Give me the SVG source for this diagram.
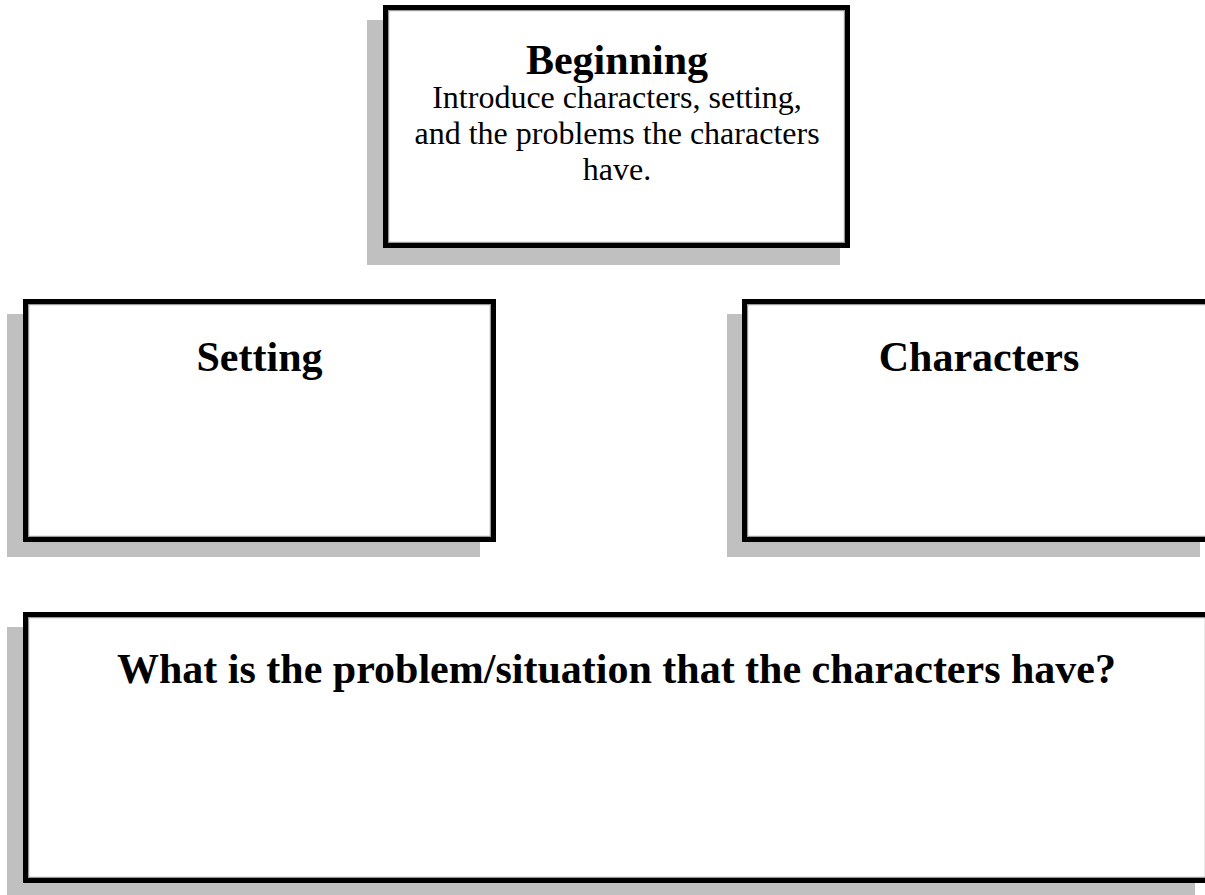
<svg xmlns="http://www.w3.org/2000/svg" width="1205" height="895" viewBox="0 0 1205 895">
<style>
.shadow{fill:#c0c0c0}
.box{fill:#fff;stroke:#000;stroke-width:5}
.inner{fill:none;stroke:#9a9a9a;stroke-width:1.2}
.title{font-family:"Liberation Serif",serif;font-weight:bold;font-size:42px;text-anchor:middle;fill:#000}
.body{font-family:"Liberation Serif",serif;font-size:32px;text-anchor:middle;fill:#000}
</style>
<rect width="1205" height="895" fill="#fff"/>
<g id="beginning">
<rect class="shadow" x="367" y="20" width="473" height="245"/>
<rect class="box" x="385.5" y="7.5" width="462" height="238"/>
<rect class="inner" x="388.6" y="10.6" width="455.8" height="231.8"/>
<text class="title" x="617" y="74">Beginning</text>
<text class="body" x="617" y="108">Introduce characters, setting,</text>
<text class="body" x="617" y="144">and the problems the characters</text>
<text class="body" x="617" y="180">have.</text>
</g>
<g id="setting">
<rect class="shadow" x="7" y="314" width="473" height="243"/>
<rect class="box" x="25.5" y="301.5" width="468" height="238"/>
<rect class="inner" x="28.6" y="304.6" width="461.8" height="231.8"/>
<text class="title" x="259.5" y="371">Setting</text>
</g>
<g id="characters">
<rect class="shadow" x="727" y="314" width="473" height="243"/>
<rect class="box" x="744.5" y="301.5" width="470" height="238"/>
<rect class="inner" x="747.6" y="304.6" width="463.8" height="231.8"/>
<text class="title" x="979" y="371">Characters</text>
</g>
<g id="problem">
<rect class="shadow" x="7" y="627" width="1188" height="275"/>
<rect class="box" x="25.5" y="614.5" width="1183" height="266"/>
<rect class="inner" x="28.6" y="617.6" width="1176.8" height="259.8"/>
<text class="title" x="616.5" y="683">What is the problem/situation that the characters have?</text>
</g>
<g id="connectors"></g>
</svg>
